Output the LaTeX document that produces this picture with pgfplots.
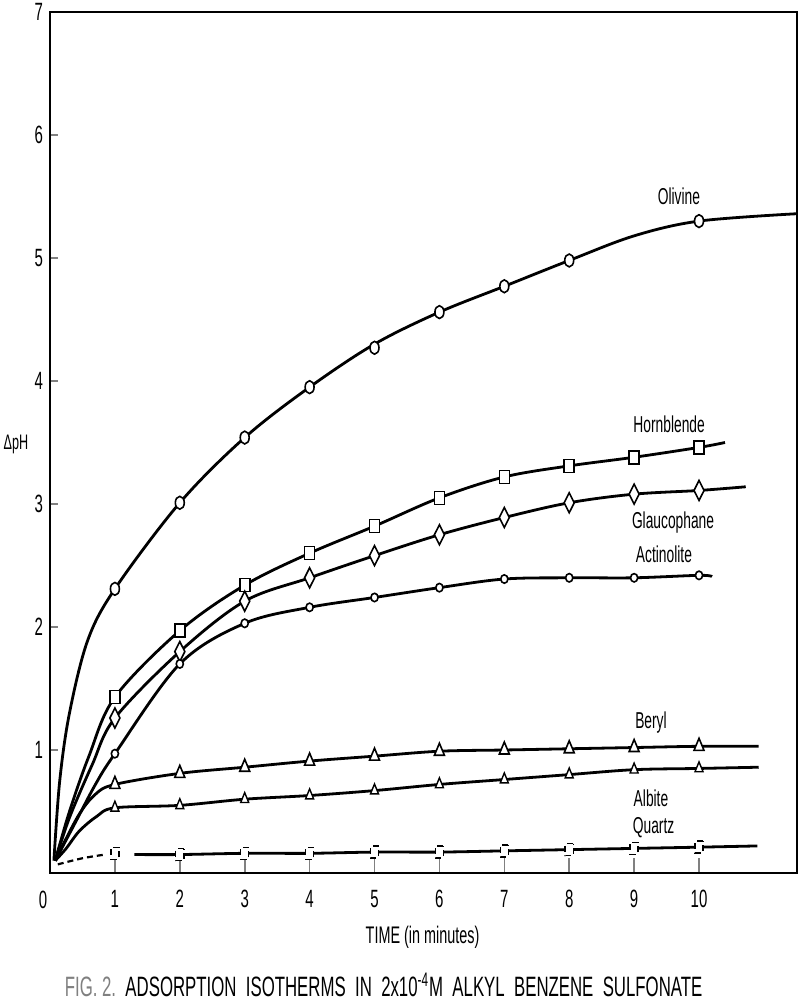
\documentclass[border=0pt]{standalone}
\usepackage{fontspec}
\setmainfont{Liberation Sans}[FakeStretch=0.6]
\usepackage{pgfplots}
\pgfplotsset{compat=1.18}

\begin{document}
\begin{tikzpicture}
\begin{axis}[
  scale only axis, width=373.5pt, height=430.5pt,
  xmin=0, xmax=11.51, ymin=0, ymax=7,
  axis line style={line width=1.1pt},
  tick align=inside, tick pos=left,
  xtick={1,...,10}, ytick={1,...,7},
  xtick style={line width=0.8pt, /pgfplots/major tick length=7.5pt},
  ytick style={line width=0.8pt, /pgfplots/major tick length=4pt},
  ticklabel style={font=\fontsize{12.5}{14}\selectfont},
  /pgf/number format/assume math mode=true,
  xticklabel style={yshift=-5pt},
  clip=false,
]
% Olivine
\addplot[line width=1.4pt, smooth, tension=0.55, no marks] coordinates {
 (0.06,0.1) (0.15,0.75) (0.3,1.3) (0.58,1.89) (1,2.31) (2,3.01) (3,3.54) (4,3.95) (5,4.30) (6,4.56) (7,4.77) (8,4.98) (9,5.18) (10,5.30) (11.51,5.36)};
\addplot[only marks, mark=*, mark size=3.2pt, mark options={xscale=0.7, fill=white, line width=0.8pt}] coordinates {
 (1,2.31) (2,3.01) (3,3.54) (4,3.95) (5,4.27) (6,4.56) (7,4.77) (8,4.98) (10,5.30)};
% Hornblende
\addplot[line width=1.4pt, smooth, tension=0.55, no marks] coordinates {
 (0.08,0.1) (0.3,0.5) (0.6,0.95) (1,1.43) (2,1.97) (3,2.34) (4,2.60) (5,2.82) (6,3.05) (7,3.22) (8,3.31) (9,3.38) (10,3.46) (10.4,3.50)};
\addplot[only marks, mark=square*, mark size=3.25pt, mark options={xscale=0.77, fill=white, line width=0.8pt}] coordinates {
 (1,1.43) (2,1.97) (3,2.34) (4,2.60) (5,2.82) (6,3.05) (7,3.22) (8,3.31) (9,3.38) (10,3.46)};
% Glaucophane
\addplot[line width=1.4pt, smooth, tension=0.55, no marks] coordinates {
 (0.08,0.1) (0.3,0.45) (0.65,0.88) (1,1.26) (2,1.80) (3,2.21) (4,2.40) (5,2.58) (6,2.75) (7,2.89) (8,3.01) (9,3.08) (10,3.11) (10.72,3.14)};
\addplot[only marks, mark=diamond*, mark size=5pt, mark options={xscale=0.67, fill=white, line width=0.8pt}] coordinates {
 (1,1.26) (2,1.80) (3,2.21) (4,2.40) (5,2.58) (6,2.75) (7,2.89) (8,3.01) (9,3.08) (10,3.11)};
% Actinolite
\addplot[line width=1.4pt, smooth, tension=0.55, no marks] coordinates {
 (0.08,0.1) (0.4,0.42) (0.7,0.72) (1,0.97) (2,1.70) (3,2.03) (4,2.16) (5,2.24) (6,2.32) (7,2.39) (8,2.40) (9,2.40) (10,2.42) (10.2,2.41)};
\addplot[only marks, mark=*, mark size=2.1pt, mark options={xscale=0.85, fill=white, line width=0.8pt}] coordinates {
 (1,0.97) (2,1.70) (3,2.03) (4,2.16) (5,2.24) (6,2.32) (7,2.39) (8,2.40) (9,2.40) (10,2.42)};
% Beryl
\addplot[line width=1.4pt, smooth, tension=0.55, no marks] coordinates {
 (0.08,0.1) (0.43,0.46) (0.7,0.64) (1,0.72) (2,0.81) (3,0.86) (4,0.91) (5,0.95) (6,0.99) (7,1.00) (8,1.01) (9,1.02) (10,1.03) (10.92,1.03)};
\addplot[only marks, mark=triangle*, mark size=4pt, mark options={xscale=0.72, fill=white, line width=0.8pt}] coordinates {
 (1,0.72) (2,0.81) (3,0.86) (4,0.91) (5,0.95) (6,0.99) (7,1.00) (8,1.01) (9,1.02) (10,1.03)};
% Albite
\addplot[line width=1.4pt, smooth, tension=0.55, no marks] coordinates {
 (0.08,0.1) (0.25,0.2) (0.45,0.34) (0.72,0.46) (1,0.53) (2,0.55) (3,0.60) (4,0.63) (5,0.67) (6,0.72) (7,0.76) (8,0.80) (9,0.84) (10,0.85) (10.92,0.86)};
\addplot[only marks, mark=triangle*, mark size=3.3pt, mark options={xscale=0.7, fill=white, line width=0.7pt}] coordinates {
 (1,0.53) (2,0.55) (3,0.60) (4,0.63) (5,0.67) (6,0.72) (7,0.76) (8,0.80) (9,0.84) (10,0.85)};
% Quartz
\addplot[line width=1.1pt, smooth, densely dashed, no marks] coordinates {
 (0.12,0.07) (0.5,0.12) (0.85,0.15)};
\addplot[line width=1.4pt, smooth, tension=0.55, no marks] coordinates {
 (1.3,0.15) (2,0.15) (3,0.16) (4,0.16) (5,0.17) (6,0.17) (7,0.18) (8,0.19) (9,0.20) (10,0.21) (10.9,0.22)};
\addplot[only marks, mark=square*, mark size=3pt, mark options={xscale=0.67, fill=white, line width=0.7pt, densely dashed}] coordinates {
 (1,0.16) (2,0.15) (3,0.16) (4,0.16) (5,0.17) (6,0.17) (7,0.18) (8,0.19) (9,0.20) (10,0.21)};

% curve labels
\begin{scope}[every node/.style={font=\fontsize{11.5}{13}\selectfont, inner sep=0pt}]
\node at (axis cs:9.69,5.50) {Olivine};
\node at (axis cs:9.54,3.65) {Hornblende};
\node at (axis cs:9.60,2.85) {Glaucophane};
\node at (axis cs:9.46,2.59) {Actinolite};
\node at (axis cs:9.26,1.22) {Beryl};
\node at (axis cs:9.26,0.61) {Albite};
\node at (axis cs:9.30,0.37) {Quartz};
\end{scope}
\node[font=\fontsize{10.5}{12}\selectfont, inner sep=0pt] at ([xshift=-17pt]axis cs:0,3.48) {ΔpH};
\node[font=\fontsize{12.5}{14}\selectfont, inner sep=0pt] at ([xshift=-3.5pt,yshift=-13.5pt]axis cs:0,0) {0};
\node[font=\fontsize{12}{14}\selectfont, inner sep=0pt] at ([yshift=-32pt]axis cs:5.74,0) {TIME (in minutes)};
\node[font=\fontsize{14}{16}\selectfont, inner sep=0pt] at ([yshift=-56pt]axis cs:5.14,0)
  {{\color{gray}FIG. 2.}\ \ ADSORPTION\ \ ISOTHERMS\ \ IN\ \ 2x10\textsuperscript{-4}M\ \ ALKYL\ \ BENZENE\ \ SULFONATE};
\coordinate (BL) at (rel axis cs:0,0);
\coordinate (TR) at (rel axis cs:1,1);
\end{axis}
\pgfresetboundingbox
\path ([shift={(-25pt,-64.5pt)}]BL) rectangle ([shift={(1.5pt,6pt)}]TR);
\end{tikzpicture}
\end{document}
